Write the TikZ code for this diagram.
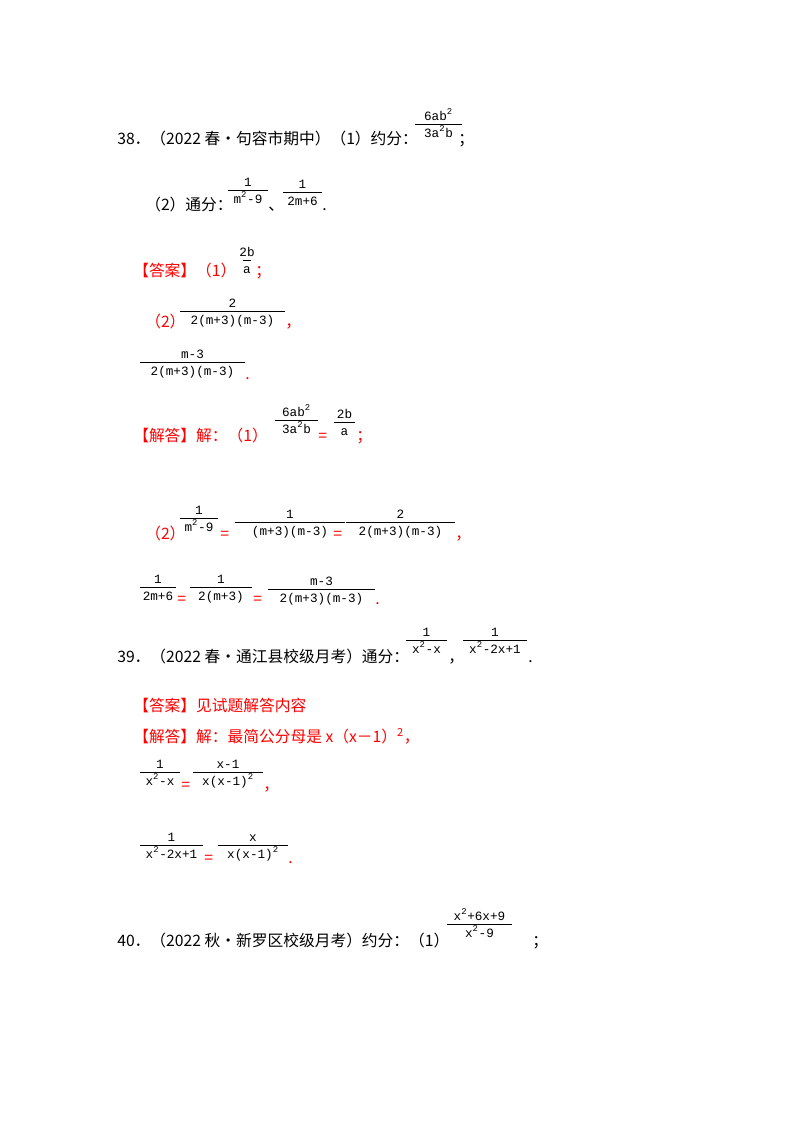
\documentclass[tikz,border=0pt]{standalone}
\usepackage{fontspec}
\setmainfont{Liberation Serif}
\newfontfamily\cjk{Noto Sans CJK SC}
\newfontfamily\fm{Liberation Mono}
\newcommand\sq[1]{\textsuperscript{#1}}
\newcommand\fr[5]{%
\draw[line width=0.5pt] (#1,#3)--(#2,#3);
\node[fs,anchor=base] at ({(#1+#2)/2},#3-4) {#4};
\node[fs,anchor=base] at ({(#1+#2)/2},#3+13) {#5};}
\tikzset{fs/.style={inner sep=0pt,font=\fm\fontsize{9.5}{11}\selectfont},
 tx/.style={inner sep=0pt,anchor=base west,font=\cjk\fontsize{11.8}{13}\selectfont},
 rd/.style={tx,text=red}}
\begin{document}
\begin{tikzpicture}[x=0.75pt,y=-0.75pt]
\useasboundingbox[fill=white] (0,0) rectangle (800,1132);
% 38
\node[tx] (t38) at (117,144) {38．（2022 春•句容市期中）（1）约分：};
\fr{415}{462}{124}{6ab\sq{2}}{3a\sq{2}b}
\node[tx] (s1) at (458,144) {；};
\node[tx] (t2) at (145,210) {（2）通分：};
\fr{228}{268}{190}{1}{m\sq{2}-9}
\node[tx] (c1) at (268,210) {、};
\fr{283}{322}{192}{1}{2m+6}
\node[tx] (p1) at (322,210) {.};
\node[rd] (a1) at (133,276) {【答案】（1）};
\fr{243}{251}{260}{2b}{a}
\node[rd] (a1s) at (255,276) {；};
\node[rd] (a2) at (145,327) {（2）};
\fr{180}{285}{311}{2}{2(m+3)(m-3)}
\node[rd] (a2c) at (285,327) {，};
\fr{140}{245}{362}{m-3}{2(m+3)(m-3)}
\node[rd] (a3) at (245,379) {.};
\node[rd] (j1) at (133,441) {【解答】解：（1）};
\fr{275}{318}{420}{6ab\sq{2}}{3a\sq{2}b}
\node[rd] (e1) at (318,441) {=};
\fr{334}{355}{422}{2b}{a}
\node[rd] (j1s) at (356,441) {；};
\node[rd] (j2) at (145,539) {（2）};
\fr{180}{218}{518}{1}{m\sq{2}-9}
\node[rd] (e2) at (220,539) {=};
\fr{235}{345}{522}{1}{(m+3)(m-3)}
\node[rd] (e3) at (333,539) {=};
\fr{346}{455}{522}{2}{2(m+3)(m-3)}
\node[rd] (j2c) at (455,539) {，};
\fr{140}{176}{587}{1}{2m+6}
\node[rd] (e4) at (177,604) {=};
\fr{190}{252}{587}{1}{2(m+3)}
\node[rd] (e5) at (253,604) {=};
\fr{268}{375}{589}{m-3}{2(m+3)(m-3)}
\node[rd] (j3) at (375,604) {.};
% 39
\node[tx] (t39) at (117,662) {39．（2022 春•通江县校级月考）通分：};
\fr{406}{447}{640}{1}{x\sq{2}-x}
\node[tx] (c2) at (448,662) {，};
\fr{463}{527}{640}{1}{x\sq{2}-2x+1}
\node[tx] (p2) at (528,662) {.};
\node[rd] (a4) at (133,711) {【答案】见试题解答内容};
\node[rd] (j4) at (133,742) {【解答】解：最简公分母是 \textit{x}（\textit{x}－1）\sq{2}，};
\fr{140}{180}{772}{1}{x\sq{2}-x}
\node[rd] (e6) at (181,790) {=};
\fr{193}{263}{772}{x-1}{x(x-1)\sq{2}}
\node[rd] (j5) at (263,790) {，};
\fr{140}{203}{845}{1}{x\sq{2}-2x+1}
\node[rd] (e7) at (204,863) {=};
\fr{218}{288}{845}{x}{x(x-1)\sq{2}}
\node[rd] (j6) at (288,863) {.};
% 40
\node[tx] (t40) at (117,946) {40．（2022 秋•新罗区校级月考）约分：（1）};
\fr{447}{512}{924}{x\sq{2}+6x+9}{x\sq{2}-9}
\node[tx] (s4) at (532,946) {；};
\end{tikzpicture}
\end{document}
